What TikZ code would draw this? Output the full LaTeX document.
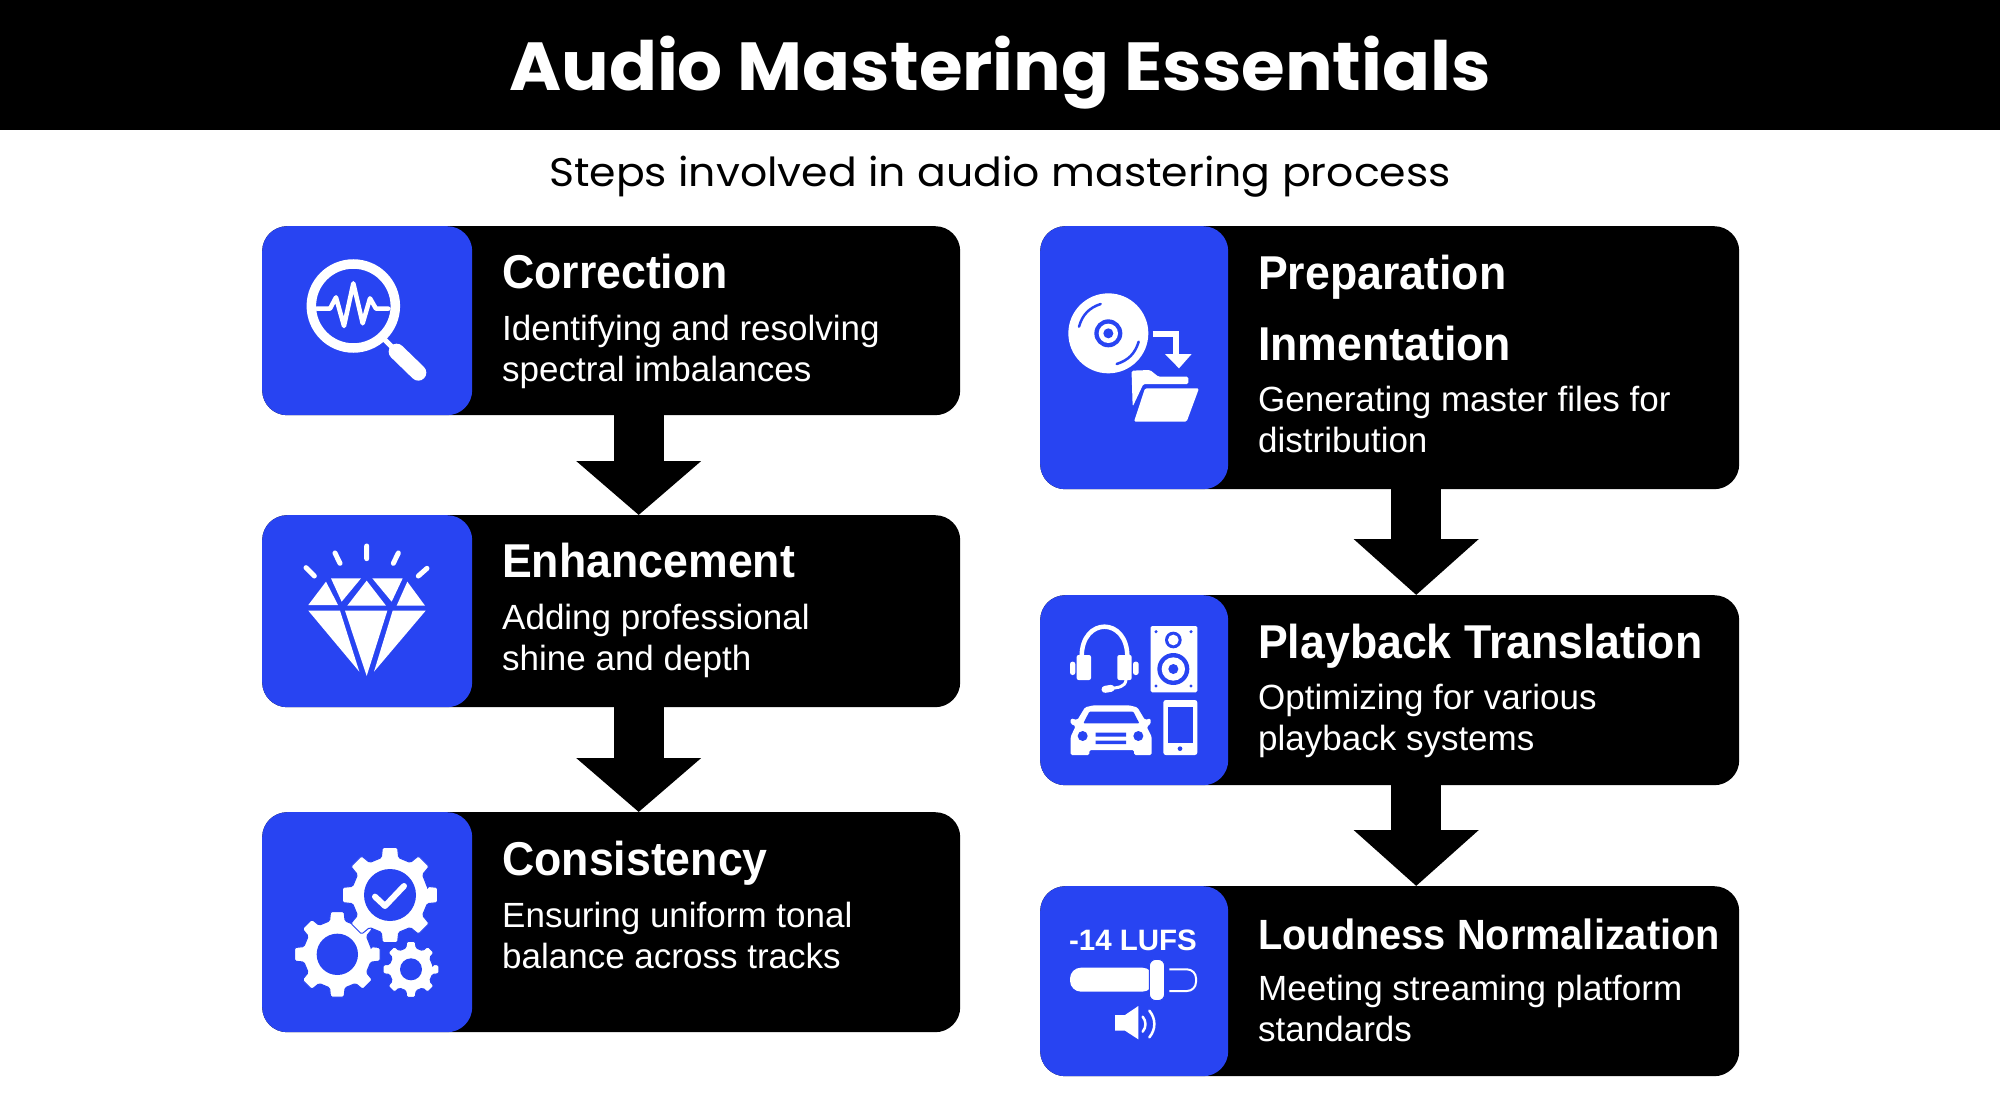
\documentclass[tikz,border=0pt]{standalone}
\usepackage{fontspec}
\setmainfont{Liberation Sans}
\newfontfamily\titlefont[FakeStretch=1.04]{Poppins}
\newfontfamily\subfont[FakeStretch=1.065]{Poppins}
\newfontfamily\headfont[FakeStretch=0.94]{Liberation Sans}
\usetikzlibrary{arrows.meta}
\definecolor{iconblue}{HTML}{2844F2}
\tikzset{
    card/.style={fill=black, rounded corners=25pt, anchor=north west, inner sep=0pt},
    iconbox/.style={fill=iconblue, rounded corners=25pt, anchor=north west, inner sep=0pt},
    headtxt/.style={text=white, anchor=base west, inner sep=0pt, font=\headfont\bfseries\fontsize{47.5}{50}\selectfont},
    bodytxt/.style={text=white, anchor=base west, inner sep=0pt, align=left, font=\fontsize{35}{41}\selectfont},
    flowarrow/.style={-{Triangle[length=54pt,width=122pt]}, line width=50pt},
    iconat/.style={shift={#1}, x=0.33333pt, y=-0.33333pt},
    iconline/.style={draw=white, line cap=round, line join=round}
}
% one gear: centre x, centre y, outer radius, root radius, hole radius
\newcommand{\gearicon}[5]{
    \fill[white, draw=iconblue, line width=1pt, rounded corners=1.5pt, shift={(#1,#2)}] (-11:#4)
        \foreach \k in {0,...,7} { -- ({45*\k-13}:#4) -- ({45*\k-9}:#3) -- ({45*\k+9}:#3) -- ({45*\k+13}:#4) } -- cycle;
    \fill[iconblue] (#1,#2) circle (#5);
}
\begin{document}
\begin{tikzpicture}[x=1pt, y=-1pt]
    \useasboundingbox (0,0) rectangle (2000,1116);

    % Title band
    \fill[black] (0,0) rectangle (2000,130);
    \node[text=white, inner sep=0pt, anchor=base, font=\titlefont\bfseries\fontsize{68}{70}\selectfont] (title) at (1000,90) {Audio Mastering Essentials};
    \node[inner sep=0pt, anchor=base, font=\subfont\fontsize{40}{44}\selectfont] (subtitle) at (1000,186) {Steps involved in audio mastering process};

    % Left column
    \node[card, minimum width=698pt, minimum height=189pt] (correction) at (262,226) {};
    \node[card, minimum width=698pt, minimum height=192pt] (enhancement) at (262,515) {};
    \node[card, minimum width=698pt, minimum height=220pt] (consistency) at (262,812) {};
    \node[iconbox, minimum width=210pt, minimum height=189pt] (correctionicon) at (262,226) {};
    \node[iconbox, minimum width=210pt, minimum height=192pt] (enhancementicon) at (262,515) {};
    \node[iconbox, minimum width=210pt, minimum height=220pt] (consistencyicon) at (262,812) {};

    % Right column
    \node[card, minimum width=699pt, minimum height=263pt] (preparation) at (1040,226) {};
    \node[card, minimum width=699pt, minimum height=190pt] (playback) at (1040,595) {};
    \node[card, minimum width=699pt, minimum height=190pt] (loudness) at (1040,886) {};
    \node[iconbox, minimum width=188pt, minimum height=263pt] (preparationicon) at (1040,226) {};
    \node[iconbox, minimum width=188pt, minimum height=190pt] (playbackicon) at (1040,595) {};
    \node[iconbox, minimum width=188pt, minimum height=190pt] (loudnessicon) at (1040,886) {};

    % Arrows between the cards
    \draw[flowarrow] ([xshift=27.5pt]correction.south) -- ([xshift=27.5pt]enhancement.north);
    \draw[flowarrow] ([xshift=27.5pt]enhancement.south) -- ([xshift=27.5pt]consistency.north);
    \draw[flowarrow, -{Triangle[length=56pt,width=122pt]}] ([xshift=26.5pt]preparation.south) -- ([xshift=26.5pt]playback.north);
    \draw[flowarrow, -{Triangle[length=56pt,width=122pt]}] ([xshift=26.5pt]playback.south) -- ([xshift=26.5pt]loudness.north);

    % Card texts
    \node[headtxt] (correctionhead) at (502,288.5) {Correction};
    \node[bodytxt] (correctionbody) at (502,381) {Identifying and resolving\\spectral imbalances};
    \node[headtxt] (enhancementhead) at (502,577) {Enhancement};
    \node[bodytxt] (enhancementbody) at (502,670) {Adding professional\\shine and depth};
    \node[headtxt] (consistencyhead) at (502,875) {Consistency};
    \node[bodytxt] (consistencybody) at (502,968) {Ensuring uniform tonal\\balance across tracks};
    \node[headtxt] (preparationhead) at (1258,289) {Preparation};
    \node[headtxt] (inmentationhead) at (1258,360) {Inmentation};
    \node[bodytxt] (preparationbody) at (1258,452) {Generating master files for\\distribution};
    \node[headtxt] (playbackhead) at (1258,658) {Playback Translation};
    \node[bodytxt] (playbackbody) at (1258,750) {Optimizing for various\\playback systems};
    \node[headtxt, font=\headfont\bfseries\fontsize{42.3}{46}\selectfont] (loudnesshead) at (1258,949) {Loudness Normalization};
    \node[bodytxt] (loudnessbody) at (1258,1041) {Meeting streaming platform\\standards};

    % Magnifier
    \begin{scope}[iconat={(250,220)}]
        \draw[white, line width=9.5pt] (310,258) circle (126);
        \draw[iconline, line width=4.5pt] (200,266) -- (240,266) -- (258,232) -- (282,318) -- (310,190) -- (338,310) -- (360,235) -- (378,266) -- (415,266);
        \draw[iconline, line width=5pt] (405,360) -- (440,395);
        \draw[iconline, line width=16pt] (440,395) -- (505,458);
    \end{scope}

    % Diamond
    \begin{scope}[iconat={(250,510)}]
        \fill[white] (175,285) -- (228,215) -- (264,285) -- cycle
            (243,205) -- (333,205) -- (275,275) -- cycle
            (292,287) -- (350,212) -- (408,287) -- cycle
            (367,205) -- (458,205) -- (425,275) -- cycle
            (440,287) -- (472,215) -- (525,287) -- cycle
            (175,302) -- (270,302) -- (328,485) -- cycle
            (285,302) -- (412,302) -- (350,498) -- cycle
            (428,302) -- (527,302) -- (372,485) -- cycle;
        \draw[iconline, line width=5pt] (168,173) -- (193,198)
            (255,129) -- (270,160)
            (350,108) -- (350,146)
            (445,129) -- (430,160)
            (531,175) -- (505,198);
    \end{scope}

    % Gears
    \begin{scope}[iconat={(250,810)}]
        \gearicon{262}{433}{130}{103}{62}
        \gearicon{483}{478}{85}{66}{33}
        \gearicon{420}{255}{145}{115}{78}
        \draw[iconline, line width=6pt] (375,260) -- (405,288) -- (462,228);
    \end{scope}

    % Disc and folder
    \begin{scope}[iconat={(1030,260)}]
        \fill[white] (235,220) circle (120);
        \fill[iconblue] (235,220) circle (42);
        \fill[white] (235,220) circle (29);
        \fill[iconblue] (235,220) circle (15);
        \draw[iconblue, line width=2.5pt, line cap=round] (147,200) to[bend left=28] (212,132);
        \draw[iconblue, line width=2.5pt, line cap=round] (326,245) to[bend left=28] (260,312);
        \draw[white, line width=6pt] (368,222) -- (437,222) -- (437,290);
        \fill[white] (405,282) -- (485,282) -- (447,325) -- cycle;
        \fill[white, rounded corners=1.5pt] (305,345) -- (305,332) -- (360,330) -- (385,350) -- (475,350) -- (475,372) -- (340,372) -- (308,440) -- cycle;
        \fill[white, rounded corners=1.5pt] (345,385) -- (507,385) -- (470,485) -- (312,485) -- cycle;
    \end{scope}

    % Headphones, speaker, car and phone
    \begin{scope}[iconat={(1030,600)}]
        \draw[white, line width=4.5pt] (155,170) .. controls (155,50) and (292,50) .. (292,170);
        \fill[white, rounded corners=2pt] (140,165) rectangle (183,240) (262,165) rectangle (305,240);
        \fill[white, rounded corners=2.5pt] (120,185) rectangle (136,225) (309,185) rectangle (326,225);
        \draw[iconline, line width=3pt] (288,240) .. controls (285,262) and (265,262) .. (240,266);
        \draw[iconline, line width=7pt] (225,268) -- (243,265);
        \fill[white, rounded corners=1.5pt] (362,78) rectangle (502,277);
        \fill[iconblue] (378,95) circle (5) (483,95) circle (5) (378,258) circle (5) (483,258) circle (5);
        \fill[iconblue] (430,120) circle (25) (430,207) circle (48);
        \fill[white] (430,120) circle (16) (430,207) circle (35);
        \fill[iconblue] (430,207) circle (15);
        \fill[white, rounded corners=1.5pt] (122,465) -- (122,410) -- (137,378) -- (122,372) -- (122,355) -- (142,360) -- (165,322) -- (190,316) -- (298,316) -- (322,322) -- (345,360) -- (362,355) -- (362,372) -- (350,380) -- (365,410) -- (365,465) -- (312,465) -- (312,450) -- (178,450) -- (178,465) -- cycle;
        \fill[iconblue, rounded corners=1pt] (160,370) -- (178,335) -- (310,335) -- (328,370) -- cycle;
        \fill[iconblue] (158,408) circle (15) (325,408) circle (15);
        \fill[iconblue] (197,398) rectangle (288,410) (197,422) rectangle (288,432);
        \fill[white, rounded corners=2.5pt] (400,300) rectangle (502,465);
        \fill[iconblue] (414,322) rectangle (488,430);
        \fill[iconblue] (450,446) circle (7);
    \end{scope}

    % Loudness meter
    \node[text=white, inner sep=0pt, font=\bfseries\fontsize{29.5}{32}\selectfont] (lufs) at (1133,940) {-14 LUFS};
    \begin{scope}[iconat={(1030,890)}]
        \fill[white, rounded corners=11pt] (120,233) rectangle (370,305);
        \fill[white, draw=iconblue, line width=1pt, rounded corners=6.5pt] (358,208) rectangle (404,332);
        \draw[white, line width=2pt, rounded corners=9pt] (418,238) -- (498,238) -- (498,303) -- (418,303);
        \fill[white] (255,375) -- (285,375) -- (325,348) -- (325,448) -- (285,422) -- (255,422) -- cycle;
        \draw[iconline, line width=2.5pt] (338,380) to[bend left=40] (338,425);
        \draw[iconline, line width=2.5pt] (358,362) to[bend left=40] (358,442);
    \end{scope}
\end{tikzpicture}
\end{document}
